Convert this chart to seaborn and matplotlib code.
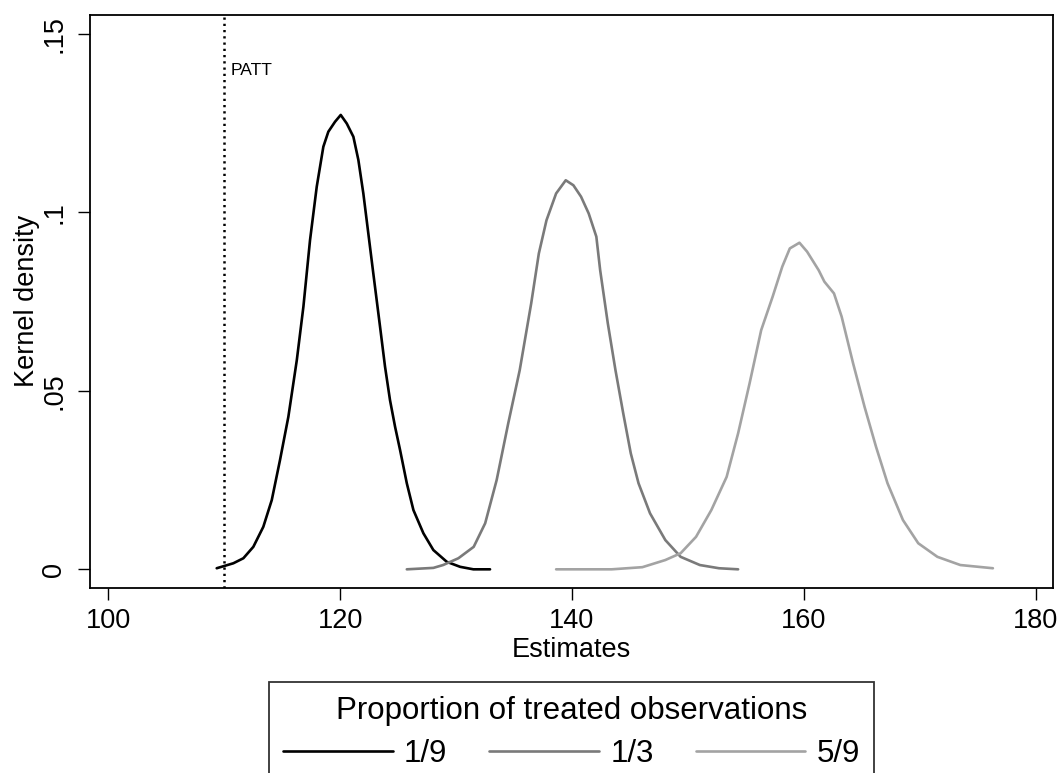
import matplotlib
matplotlib.use("Agg")
import matplotlib.pyplot as plt
import seaborn as sns
import pandas as pd

# ---- data ----
groups = ["1/9", "1/3", "5/9"]
colors = ["#000000", "#7a7a7a", "#a3a3a3"]

x_19 = [109.35, 110.79, 111.65, 112.51, 113.37, 114.1, 114.81, 115.53, 116.26, 116.83,
        117.4, 117.98, 118.55, 118.98, 119.56, 120.05, 120.57, 121.14, 121.57, 122.0,
        122.43, 122.86, 123.44, 123.87, 124.3, 124.74, 125.17, 125.75, 126.32, 127.18,
        128.04, 129.2, 130.35, 131.49, 132.93]
y_19 = [0.0003, 0.0017, 0.0031, 0.0063, 0.0119, 0.0194, 0.0306, 0.0427, 0.0586, 0.0736,
        0.0922, 0.1072, 0.1184, 0.1226, 0.1254, 0.1273, 0.1249, 0.1212, 0.1147, 0.1053,
        0.0941, 0.0829, 0.0680, 0.0568, 0.0474, 0.0399, 0.0334, 0.0241, 0.0166, 0.0101,
        0.0054, 0.0021, 0.0007, 0.0, 0.0]

x_13 = [125.75, 128.04, 128.88, 130.2, 131.52, 132.51, 133.5, 134.5, 135.49, 136.48,
        137.14, 137.8, 138.63, 139.46, 140.12, 140.78, 141.44, 142.1, 142.43, 143.09,
        143.75, 144.42, 145.07, 145.74, 146.73, 148.05, 149.37, 151.03, 152.68, 154.33]
y_13 = [0.0, 0.0004, 0.0012, 0.0031, 0.0063, 0.0129, 0.0250, 0.0409, 0.0558, 0.0745,
        0.0885, 0.0978, 0.1053, 0.1090, 0.1076, 0.1044, 0.0997, 0.0932, 0.0838, 0.0689,
        0.0558, 0.0437, 0.0325, 0.0241, 0.0157, 0.0082, 0.0035, 0.0012, 0.0003, 0.0]

x_59 = [138.63, 143.43, 146.07, 148.05, 149.37, 150.7, 152.02, 153.34, 154.33, 155.32,
        156.32, 157.31, 158.14, 158.79, 159.62, 160.28, 161.28, 161.77, 162.6, 163.26,
        164.25, 165.24, 166.23, 167.22, 168.55, 169.87, 171.52, 173.5, 176.31]
y_59 = [0.0, 0.0, 0.0006, 0.0026, 0.0045, 0.0091, 0.0166, 0.0259, 0.0381, 0.0521,
        0.0670, 0.0764, 0.0848, 0.0899, 0.0915, 0.0890, 0.0838, 0.0806, 0.0773, 0.0708,
        0.0577, 0.0455, 0.0343, 0.0241, 0.0138, 0.0073, 0.0035, 0.0012, 0.0003]

patt = 110.0
x_ticks = [100, 120, 140, 160, 180]
y_ticks = [0, 0.05, 0.10, 0.15]
y_tick_labels = ["0", ".05", ".1", ".15"]

df = pd.concat([
    pd.DataFrame({"Estimates": x_19, "Kernel density": y_19, "group": groups[0]}),
    pd.DataFrame({"Estimates": x_13, "Kernel density": y_13, "group": groups[1]}),
    pd.DataFrame({"Estimates": x_59, "Kernel density": y_59, "group": groups[2]}),
], ignore_index=True)

sns.set_style("ticks")
plt.rcParams["font.family"] = ["Liberation Sans", "DejaVu Sans"]
plt.rcParams["text.color"] = "black"
plt.rcParams["axes.labelcolor"] = "black"
plt.rcParams["xtick.color"] = "black"
plt.rcParams["ytick.color"] = "black"

fig = plt.figure(figsize=(10.64, 7.73), dpi=100)
ax = fig.add_axes([90 / 1064, 1 - 587.7 / 773, (1053.3 - 90) / 1064, (587.7 - 15) / 773])

sns.lineplot(data=df, x="Estimates", y="Kernel density", hue="group",
             hue_order=groups, palette=dict(zip(groups, colors)),
             estimator=None, sort=False, linewidth=1.9, ax=ax, legend=False)
for ln in ax.get_lines():
    ln.set_solid_joinstyle("round")
    ln.set_solid_capstyle("round")

ax.axvline(patt, color="black", linewidth=1.8, linestyle=(0, (0.9, 1.6)),
           dash_capstyle="butt", zorder=1)
ax.text(patt + 0.55, 0.1397, "PATT", fontsize=12.5, va="center", ha="left", color="black")

ax.set_xlim(98.42, 181.52)
ax.set_ylim(-0.00515, 0.1553)
ax.set_xticks(x_ticks)
ax.set_xticklabels([str(t) for t in x_ticks])
ax.set_yticks(y_ticks)
ax.set_yticklabels(y_tick_labels, rotation=90, va="center")

ax.tick_params(axis="both", direction="out", length=8.5, width=1.0, color="black",
               labelsize=19.5, labelcolor="black")
ax.tick_params(axis="y", pad=8)
ax.tick_params(axis="x", pad=6)
for s in ax.spines.values():
    s.set_visible(True)
    s.set_linewidth(1.3)
    s.set_color("black")

ax.set_xlabel("Estimates", fontsize=19.5, labelpad=2, color="black")
ax.set_ylabel("Kernel density", fontsize=19.5, labelpad=1, color="black")

handles = [plt.Line2D([], [], color=c, linewidth=1.9) for c in colors]
leg = fig.legend(handles, groups, loc="upper center", bbox_to_anchor=(571.5 / 1064, 1 - 682 / 773),
                 ncol=3, title="Proportion of treated observations", fontsize=22.5,
                 title_fontsize=22.5, frameon=True, fancybox=False, edgecolor="black",
                 handlelength=3.5, handletextpad=0.37, columnspacing=1.34,
                 borderpad=0.45, labelspacing=0.2, borderaxespad=0)
leg.get_frame().set_linewidth(1.3)
leg._legend_box.sep = 9
for t in leg.get_texts():
    t.set_color("black")
leg.get_title().set_color("black")

fig.savefig("out.png", dpi=100, facecolor="white")
